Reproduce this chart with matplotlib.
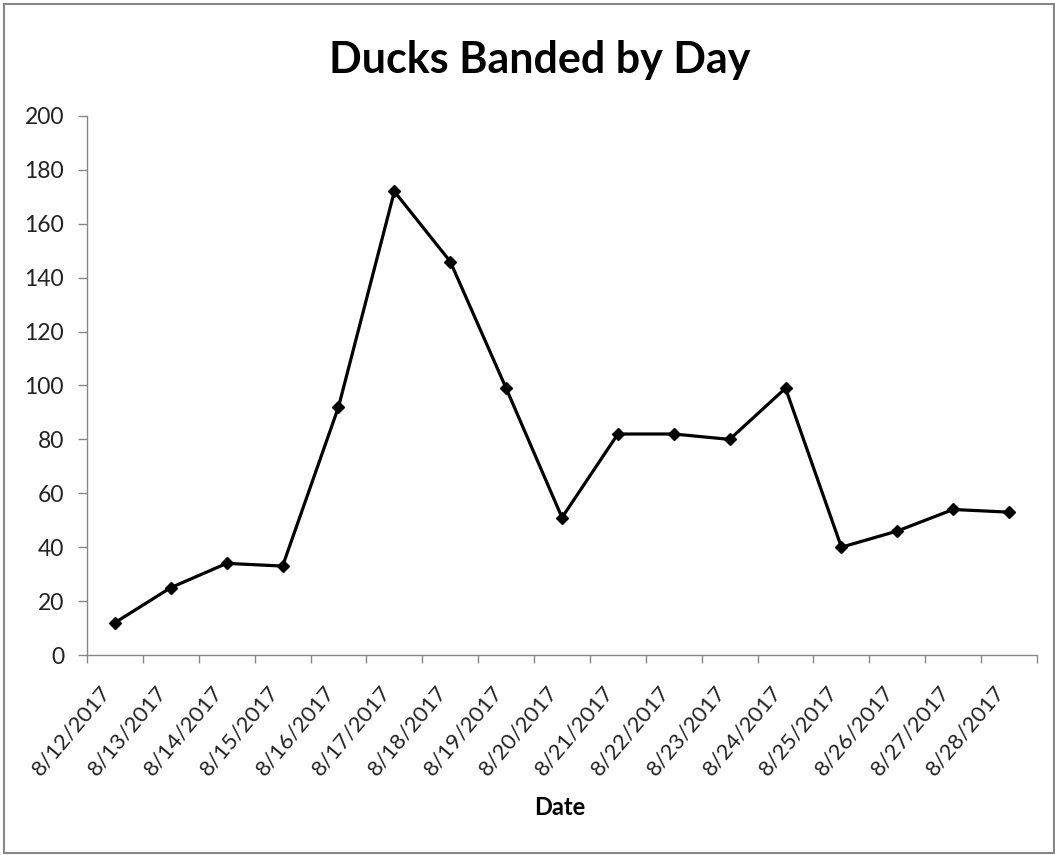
import matplotlib
matplotlib.use("Agg")
import matplotlib.pyplot as plt
from matplotlib.patches import Rectangle

dates = ["8/12/2017", "8/13/2017", "8/14/2017", "8/15/2017", "8/16/2017",
         "8/17/2017", "8/18/2017", "8/19/2017", "8/20/2017", "8/21/2017",
         "8/22/2017", "8/23/2017", "8/24/2017", "8/25/2017", "8/26/2017",
         "8/27/2017", "8/28/2017"]
ducks = [12, 25, 34, 33, 92, 172, 146, 99, 51, 82, 82, 80, 99, 40, 46, 54, 53]
yticks = [0, 20, 40, 60, 80, 100, 120, 140, 160, 180, 200]

plt.rcParams['font.family'] = ['Lato', 'DejaVu Sans']

fig = plt.figure(figsize=(10.55, 8.55), dpi=100)
fig.patches.append(Rectangle((3.5/1055, 1 - 853/855), 1050/1055, 849/855,
                             transform=fig.transFigure, fill=False,
                             edgecolor='#878787', linewidth=1.5))

ax = fig.add_axes([87/1055, 1 - 655/855, (1037 - 87)/1055, (655 - 116)/855])
x = list(range(len(dates)))
ax.plot(x, ducks, color='black', linewidth=2.3, marker='D', markersize=6.5,
        markerfacecolor='black', markeredgecolor='black')

ax.set_xlim(-0.5, len(dates) - 0.5)
ax.set_ylim(0, 200)
ax.set_yticks(yticks)
ax.set_yticklabels([str(v) for v in yticks], fontsize=16.5, color='#222222')

ax.set_xticks([i - 0.5 for i in range(len(dates) + 1)])
ax.set_xticklabels([])
ax.set_xticks(x, minor=True)
ax.set_xticklabels(dates, minor=True, rotation=50, ha='right', va='top',
                   fontsize=16, color='#222222')
ax.tick_params(axis='x', which='minor', length=0, pad=19)
ax.tick_params(axis='x', which='major', length=6, color='#878787', width=1)
ax.tick_params(axis='y', length=6.5, color='#878787', width=1, pad=10)

for s in ['top', 'right']:
    ax.spines[s].set_visible(False)
for s in ['left', 'bottom']:
    ax.spines[s].set_color('#878787')
    ax.spines[s].set_linewidth(1)

fig.text(540/1055, 1 - 60/855, "Ducks Banded by Day", ha='center', va='center',
         fontsize=31, fontweight='bold')
fig.text(560/1055, 1 - 807/855, "Date", ha='center', va='center',
         fontsize=17, fontweight='bold')

fig.savefig("out.png", dpi=100)
